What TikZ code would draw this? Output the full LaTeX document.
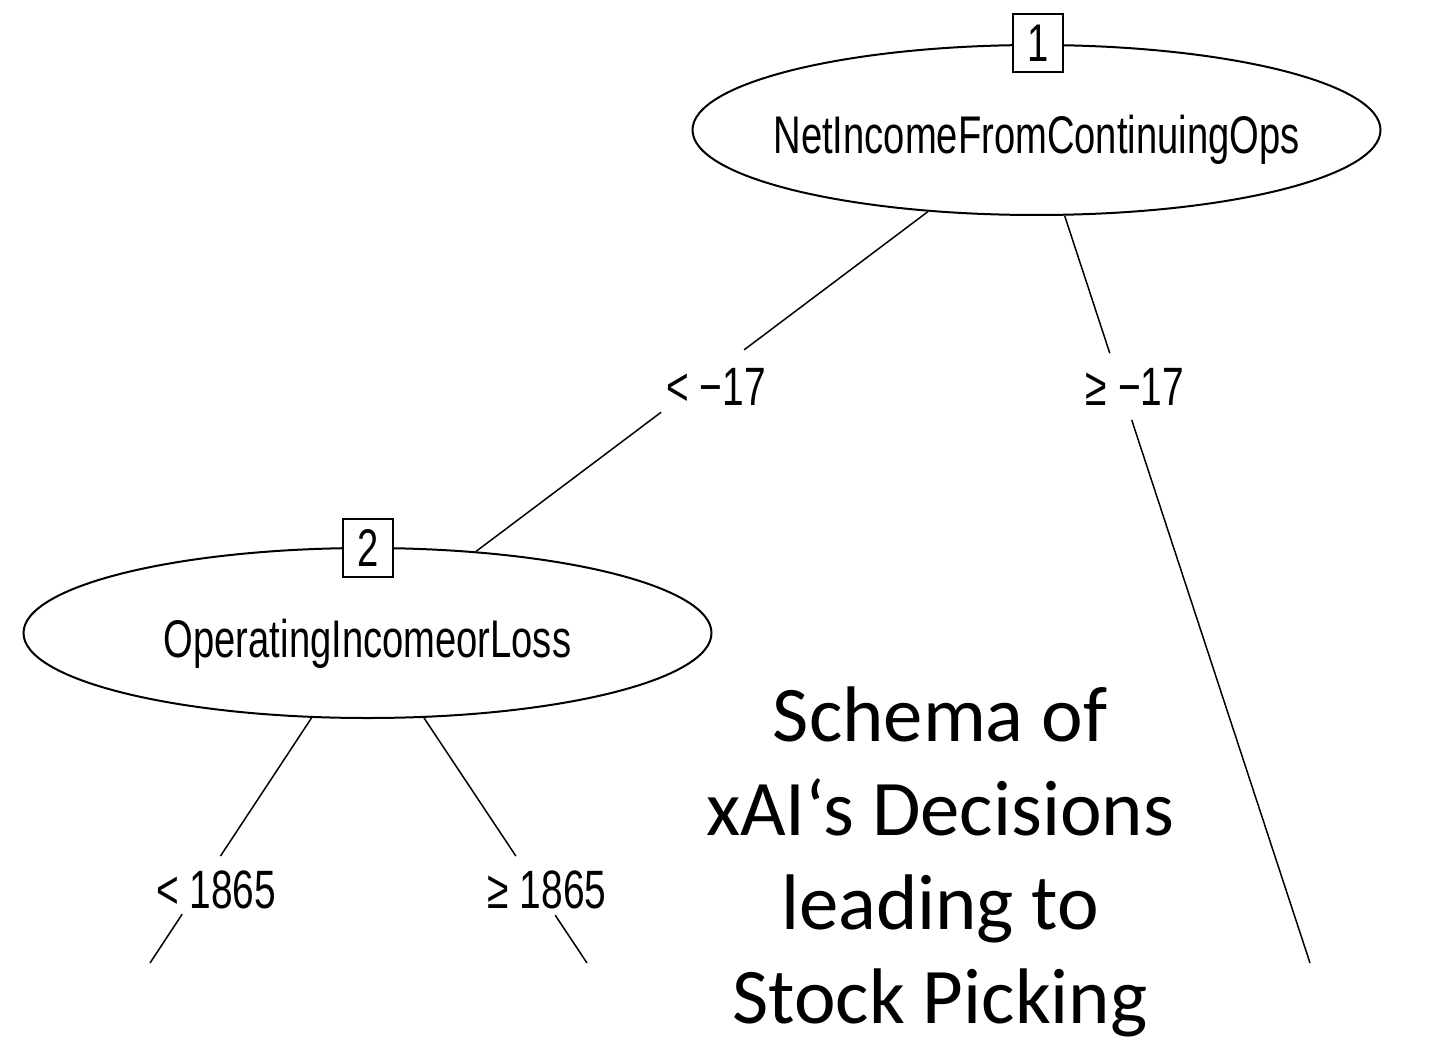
\documentclass[tikz,border=0pt]{standalone}
\usepackage{fontspec}
\setmainfont{Liberation Sans}
\newfontfamily\rfont[FakeStretch=0.72]{Liberation Sans}
\newfontfamily\cfont{Carlito}
\usetikzlibrary{shapes.geometric,calc}
\begin{document}
\begin{tikzpicture}[x=0.5pt,y=-0.5pt]
\useasboundingbox (0,0) rectangle (1450,1048);
\tikzset{
 splitnode/.style={ellipse, draw, line width=1pt, minimum width=344pt, minimum height=85pt, inner sep=0pt,
   text height=24pt, text depth=0pt, font=\rfont\fontsize{26.5}{30}\selectfont},
 numbox/.style={draw, line width=1pt, fill=white, minimum width=25pt, minimum height=29pt, inner sep=0pt,
   font=\rfont\fontsize{26.5}{30}\selectfont},
 branch/.style={line width=0.75pt},
 splitlab/.style={inner sep=0pt, anchor=base, font=\rfont\fontsize{27}{30}\selectfont},
 titletext/.style={inner sep=0pt, anchor=north, align=center, font=\cfont\fontsize{39.4}{47}\selectfont},
}
% nodes
\node[splitnode] (n1) at (1036.5,130) {\makebox[0pt]{NetIncomeFromContinuingOps}};
\node[numbox] (b1) at (1038,43) {1};
\node[splitnode] (n2) at (367.5,633) {\makebox[0pt]{OperatingIncomeorLoss}};
\node[numbox] (b2) at (368,548) {2};
% clipped branch ends
\coordinate (c3) at (150,963);
\coordinate (c4) at (587,963);
\coordinate (c5) at (1310,963);
% gap ends around labels
\coordinate (g1a) at ($(n1.center)!0.437!(n2.center)$);
\coordinate (g1b) at ($(n1.center)!0.561!(n2.center)$);
\coordinate (g5a) at ($(n1.center)!0.268!(c5)$);
\coordinate (g5b) at ($(n1.center)!0.348!(c5)$);
\coordinate (g3a) at ($(n2.center)!0.676!(c3)$);
\coordinate (g3b) at ($(n2.center)!0.852!(c3)$);
\coordinate (g4a) at ($(n2.center)!0.676!(c4)$);
\coordinate (g4b) at ($(n2.center)!0.855!(c4)$);
% branches
\draw[branch] (n1) -- (g1a);
\draw[branch] (g1b) -- (n2);
\draw[branch] (n1) -- (g5a);
\draw[branch] (g5b) -- (c5);
\draw[branch] (n2) -- (g3a);
\draw[branch] (g3b) -- (c3);
\draw[branch] (n2) -- (g4a);
\draw[branch] (g4b) -- (c4);
% redraw boxes on top
\node[numbox] at (b1) {1};
\node[numbox] at (b2) {2};
% split labels
\node[splitlab] (l1) at (716,405) {< −17};
\node[splitlab] (l2) at (1135,405) {≥ −17};
\node[splitlab] (l3) at (216,908) {< 1865};
\node[splitlab] (l4) at (547,908) {≥ 1865};
% title
\node[titletext] (title) at (940,686) {Schema of\\xAI‘s Decisions\\leading to\\Stock Picking};
\end{tikzpicture}
\end{document}
